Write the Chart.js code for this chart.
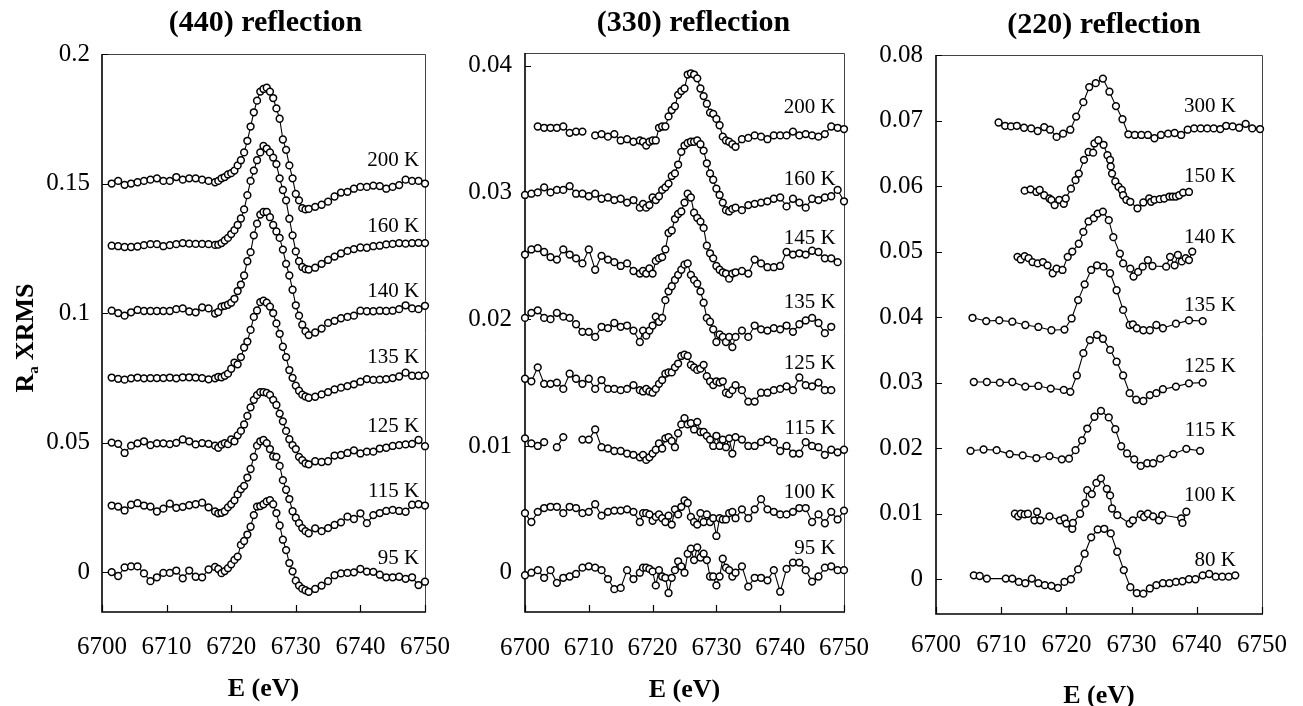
<!DOCTYPE html>
<html><head><meta charset="utf-8">
<script src="https://cdn.jsdelivr.net/npm/chart.js@4.4.1/dist/chart.umd.min.js"></script>
<style>
html,body{margin:0;padding:0;background:#fff;width:1303px;height:706px;overflow:hidden;position:relative}
canvas{position:absolute;top:0}
#ylab{position:absolute;left:-45px;top:323px;width:140px;height:30px;line-height:30px;text-align:center;transform:rotate(-90deg);font-family:"Liberation Serif","Times New Roman",serif;font-weight:bold;font-size:26px;color:#000;white-space:nowrap}
#ylab sub{font-size:15px;vertical-align:-5px;margin-right:6px}
</style></head>
<body>
<canvas id="c1" width="470" height="706" style="left:0px"></canvas>
<canvas id="c2" width="450" height="706" style="left:440px"></canvas>
<canvas id="c3" width="443" height="706" style="left:860px"></canvas>
<div id="ylab">R<sub>a</sub>XRMS</div>
<script>
const FONT = '"Liberation Serif", "Times New Roman", serif';
const xTicks = [6700, 6710, 6720, 6730, 6740, 6750];
const xTickLabels = ['6700', '6710', '6720', '6730', '6740', '6750'];

// ---------- Panel 1: (440) reflection ----------
const p1Title = '(440) reflection';
const p1Energy = [6701.5,6702.5,6703.5,6704.5,6705.5,6706.5,6707.5,6708.5,6709.5,6710.5,6711.5,6712.5,6713.5,6714.5,6715.5,6716.5,6717.5,6718,6718.5,6719,6719.5,6720,6720.5,6721,6721.5,6722,6722.5,6723,6723.5,6724,6724.5,6725,6725.5,6726,6726.5,6727,6727.5,6728,6728.5,6729,6729.5,6730,6730.5,6731,6731.5,6732,6733,6734,6735,6736,6737,6738,6739,6740,6741,6742,6743,6744,6745,6746,6747,6748,6749,6750];
const p1Temps = ['200 K', '160 K', '140 K', '135 K', '125 K', '115 K', '95 K'];
const p1_200K = [.150,.151,.1495,.150,.1505,.151,.1515,.152,.151,.151,.1525,.1515,.152,.152,.1515,.151,.1505,.151,.152,.1525,.1535,.154,.155,.157,.159,.162,.1665,.172,.1775,.182,.1855,.1865,.187,.1855,.183,.179,.175,.167,.163,.157,.152,.146,.1435,.1405,.140,.1402,.141,.1418,.143,.145,.1465,.1468,.148,.1487,.1487,.1492,.149,.148,.1487,.1494,.1515,.151,.151,.150];
const p1_160K = [.126,.1258,.1255,.1255,.1257,.1262,.1266,.1266,.1258,.1262,.1266,.127,.1268,.1267,.1267,.1266,.1263,.1264,.127,.128,.129,.1305,.132,.134,.1365,.140,.1455,.151,.155,.159,.162,.1645,.1635,.162,.160,.1575,.152,.1475,.1435,.1364,.130,.1238,.120,.1178,.117,.1168,.1175,.119,.1205,.1218,.123,.124,.1247,.1253,.1252,.1258,.126,.1265,.1267,.127,.1268,.127,.1271,.127];
const p1_140K = [.1009,.1000,.099,.1003,.1012,.1008,.1008,.1008,.1008,.1008,.1015,.1018,.1006,.1003,.1022,.1018,.0998,.1004,.1025,.1028,.1032,.104,.1055,.1085,.111,.1145,.120,.1235,.130,.1345,.138,.139,.139,.137,.134,.1315,.129,.1245,.119,.1145,.109,.103,.099,.0955,.093,.0915,.0925,.094,.0962,.097,.098,.0985,.099,.1009,.1007,.1007,.1009,.1008,.1009,.1015,.103,.1018,.1015,.1028];
const p1_135K = [.0751,.0746,.0743,.0748,.0751,.0748,.0749,.0749,.0749,.0751,.0748,.0752,.0752,.0751,.0749,.0744,.0748,.0754,.0752,.0758,.0766,.0785,.0809,.0802,.083,.0867,.089,.0935,.0985,.101,.1042,.1048,.104,.1025,.100,.096,.092,.087,.083,.078,.075,.072,.070,.0685,.0678,.0673,.0677,.0686,.0695,.0705,.0712,.0718,.0725,.0735,.0745,.0742,.0743,.0745,.0749,.0755,.077,.0758,.0758,.076];
const p1_125K = [.050,.0495,.046,.0488,.0497,.0505,.049,.0497,.0497,.0494,.0499,.0512,.0505,.0493,.0498,.0495,.0488,.048,.0492,.0498,.0494,.0512,.0505,.0528,.0545,.057,.0603,.0636,.0665,.0683,.0695,.0695,.0692,.0684,.0665,.0645,.0612,.0582,.0545,.0513,.049,.0475,.0445,.0432,.042,.0416,.0428,.0425,.0428,.045,.0452,.046,.047,.0458,.0465,.0465,.0477,.048,.0487,.049,.0493,.0495,.051,.0486];
const p1_115K = [.0257,.0253,.0238,.026,.0266,.0257,.0253,.0234,.0245,.0264,.0248,.0252,.0258,.0262,.0268,.025,.0234,.0227,.0229,.0235,.025,.0262,.0277,.030,.032,.0333,.0365,.0398,.0445,.0488,.0505,.051,.0498,.0475,.0447,.0445,.041,.0355,.0318,.0282,.0235,.021,.0189,.017,.0158,.015,.0169,.0158,.017,.0182,.0192,.0214,.0205,.0227,.0189,.022,.0228,.0236,.024,.0236,.0233,.026,.0262,.0257];
const p1_95K = [0,-.0015,.0018,.0022,.0022,-.0005,-.0035,-.002,-.0003,-.0003,.0006,-.0024,.0006,-.0018,-.002,.001,.002,.0012,-.0004,.0004,.0015,.003,.0047,.006,.0105,.012,.0145,.0175,.022,.0253,.0255,.0262,.0273,.0278,.0262,.0228,.018,.0125,.0085,.0035,.0003,-.0033,-.0052,-.0064,-.007,-.0076,-.0065,-.0052,-.0035,-.0012,-.0005,-.0003,-.0001,.0012,.0002,.0001,-.001,-.002,-.002,-.0018,-.0026,-.002,-.005,-.0037];
const p1YTicks = [0, 0.05, 0.1, 0.15, 0.2];
const p1YTickLabels = ['0', '0.05', '0.1', '0.15', '0.2'];
const p1LabelY = [0.159, 0.1333, 0.1085, 0.0829, 0.0562, 0.031, 0.0054];

// ---------- Panel 2: (330) reflection ----------
const p2Title = '(330) reflection';
const p2Energy = [6700,6701,6702,6703,6704,6705,6706,6707,6708,6709,6710,6711,6712,6713,6714,6715,6716,6717,6718,6718.5,6719,6719.5,6720,6720.5,6721,6721.5,6722,6722.5,6723,6723.5,6724,6724.5,6725,6725.5,6726,6726.5,6727,6727.5,6728,6728.5,6729,6729.5,6730,6730.5,6731,6731.5,6732,6732.5,6733,6734,6735,6736,6737,6738,6739,6740,6741,6742,6743,6744,6745,6746,6747,6748,6749,6750];
const p2Temps = ['200 K', '160 K', '145 K', '135 K', '125 K', '115 K', '100 K', '95 K'];
const p2_200K = [null,null,.0352,.0351,.0351,.0351,.0352,.0347,.0348,.0348,null,.0345,.0346,.0344,.0346,.0341,.0342,.034,.0341,.034,.0337,.034,.0341,.0341,.0351,.0352,.0352,.036,.0365,.0368,.0377,.038,.0382,.0393,.0394,.0393,.039,.0382,.0376,.037,.0363,.0362,.0358,.0353,.0344,.0341,.034,.0338,.0336,.0342,.0343,.0345,.0344,.0342,.0345,.0345,.0345,.0348,.0345,.0346,.0345,.0344,.0346,.0352,.0351,.035];
const p2_160K = [.0298,.0299,.030,.0304,.030,.0302,.0302,.0305,.0299,.0299,.0297,.0299,.0295,.0296,.0294,.0295,.0292,.0294,.0288,.0291,.0288,.029,.0296,.0294,.0297,.0302,.0304,.0307,.0313,.0315,.0322,.0332,.0337,.0339,.034,.034,.0341,.0338,.0333,.0323,.0315,.031,.0303,.0298,.0292,.0286,.0285,.0287,.0288,.0286,.029,.0291,.0292,.0293,.0295,.0296,.0289,.0295,.0292,.0288,.0295,.0294,.0296,.0297,.0302,.0293];
const p2_145K = [.0251,.0255,.0256,.0253,.0249,.0247,.0255,.0251,.0248,.0244,.0255,.0239,.025,.0247,.0245,.0242,.0244,.0238,.0236,.0238,.0236,.024,.0236,.0246,.0248,.0249,.0255,.0268,.027,.0279,.0283,.0285,.0292,.0299,.0296,.0284,.028,.0277,.0272,.0258,.0252,.0248,.0242,.0239,.0237,.0236,.0232,.0236,.0237,.0238,.0236,.0247,.0244,.0241,.0241,.0242,.0253,.0251,.0252,.0251,.0254,.0253,.0248,.0248,.0245,null];
const p2_135K = [.0201,.0205,.0207,.0201,.020,.0205,.0202,.0201,.0196,.019,.019,.0186,.0194,.0193,.0197,.0194,.0195,.0191,.0182,.0191,.0187,.0191,.0195,.0202,.0198,.0201,.0215,.0222,.0226,.0231,.0235,.0239,.0243,.0244,.0235,.0231,.0228,.0222,.0213,.0201,.0198,.0192,.0182,.0188,.0186,.0182,.0186,.0178,.0186,.0191,.0186,.0195,.0192,.0191,.0193,.0192,.0195,.019,.0196,.0199,.0201,.0197,.0189,.0194,null,null];
const p2_125K = [.0153,.0151,.0162,.0149,.0149,.015,.0145,.0157,.0153,.0149,.0153,.0145,.0152,.0145,.0145,.0144,.0145,.0148,.0144,.0143,.0145,.0143,.0142,.0145,.0149,.0152,.0157,.0158,.0158,.0162,.0165,.0171,.0172,.0171,.0164,.0162,.016,.0161,.0164,.0155,.0151,.0148,.0151,.015,.0151,.0142,.0141,.0144,.0148,.0144,.0135,.0135,.0142,.0142,.0144,.0145,.0147,.0144,.0154,.0148,.0147,.015,.0144,.0144,null,null];
const p2_115K = [.0106,.0102,.010,.0103,null,.0099,.0107,null,null,.0105,.0105,.0113,.0099,.0098,.0096,.0096,.0094,.0093,.0091,.0093,.0089,.0091,.0094,.0097,.0102,.0098,.0106,.0107,.0104,.0099,.011,.0117,.0122,.0117,.0118,.0113,.0119,.0111,.0111,.0108,.0105,.010,.0108,.010,.0105,.0099,.0106,.0094,.0107,.0105,.010,.010,.0103,.0105,.0103,.0096,.010,.0094,.0094,.0103,.010,.0099,.0093,.0097,.0095,.0097];
const p2_100K = [.0047,.004,.0048,.0051,.0052,.0052,.0047,.0052,.0051,.0047,.0048,.0054,.0045,.0048,.0049,.0049,.005,.0048,.004,.0047,.0047,.0046,.0041,.0044,.0046,.0043,.004,.0045,.0038,.005,.0046,.0052,.0057,.0055,.0044,.004,.0038,.0047,.004,.0046,.004,.0043,.0029,.0043,.0042,.0042,.0047,.0048,.0043,.005,.0043,.005,.0058,.005,.0048,.0046,.0046,.0048,.0051,.0051,.004,.0046,.0039,.0048,.0042,.0049];
const p2_95K = [-.0002,0,.0002,-.0004,.0002,-.0008,-.0004,-.0003,-.0001,.0004,.0005,.0004,.0002,-.0005,-.0013,-.0012,.0002,-.0005,0,.0004,.0004,.0003,.0001,-.001,.0002,-.0003,-.0004,-.0016,-.0004,.0002,.0009,.0005,0,.0015,.0019,.001,.002,.0012,.0015,.001,-.0003,-.0003,-.001,-.0003,.0011,.0004,.0002,-.0003,0,.0005,-.0011,-.0004,-.0004,-.0006,.0002,-.0015,.0003,.0008,.0008,.0002,-.0007,-.0003,.0004,.0005,.0002,.0002];
const p2YTicks = [0, 0.01, 0.02, 0.03, 0.04];
const p2YTickLabels = ['0', '0.01', '0.02', '0.03', '0.04'];
const p2LabelY = [0.03667, 0.031, 0.0264, 0.0213, 0.01648, 0.01136, 0.0063, 0.0019];

// ---------- Panel 3: (220) reflection ----------
const p3Title = '(220) reflection';
const p3Temps = ['300 K', '150 K', '140 K', '135 K', '125 K', '115 K', '100 K', '80 K'];
const p3_300K_E = [6709.6,6710.6,6711.5,6712.4,6713.5,6714.6,6715.6,6716.6,6717.5,6718.5,6719.5,6720.6,6721.5,6722.6,6723.5,6724.5,6725.6,6726.6,6727.6,6728.6,6729.5,6730.5,6731.5,6732.5,6733.5,6734.5,6735.6,6736.6,6737.6,6738.6,6739.6,6740.6,6741.6,6742.6,6743.6,6744.5,6745.5,6746.5,6747.5,6748.5,6749.7];
const p3_300K = [.0697,.0692,.0691,.0692,.0689,.0688,.0684,.069,.0686,.0675,.068,.0686,.0706,.0728,.0751,.0757,.0764,.0744,.0722,.0702,.0679,.0678,.0678,.0678,.0673,.0678,.068,.0681,.0678,.0686,.0688,.0688,.0688,.0688,.0687,.0692,.0691,.0689,.0695,.0688,.0687];
const p3_150K_E = [6713.6,6714.5,6715.4,6715.9,6716.6,6717.4,6717.7,6718.2,6718.9,6719.6,6719.9,6720.7,6721.4,6721.9,6722.7,6723.4,6724.1,6724.3,6724.9,6725.7,6726.3,6726.7,6726.8,6727,6727.5,6728,6728.5,6728.7,6729.2,6729.8,6730.9,6731.8,6732.7,6733,6733.5,6734.3,6735,6735.8,6736.3,6736.8,6737.3,6737.9,6738.8];
const p3_150K = [.0593,.0595,.0591,.0594,.0586,.0581,.0579,.0571,.0579,.0573,.0581,.0596,.0609,.0619,.064,.0652,.0651,.0665,.067,.0663,.0647,.064,.063,.0619,.0607,.0599,.0594,.0586,.0579,.0576,.0566,.0575,.0581,.0576,.0579,.058,.0581,.0584,.0584,.0584,.0586,.059,.0591];
const p3_140K_E = [6712.5,6713,6713.6,6714.2,6714.8,6715.6,6716.4,6717.1,6717.9,6718.5,6719.4,6720.2,6720.9,6721.9,6722.6,6723.4,6724.2,6724.8,6725.6,6726.5,6727.2,6728.2,6728.7,6729.8,6730.3,6731,6731.7,6732.5,6733.2,6735.3,6735.9,6736.6,6737.1,6737.7,6738.3,6738.8,6739.3];
const p3_140K = [.0492,.0488,.0493,.049,.0484,.0482,.0484,.0479,.0467,.0474,.0472,.0492,.05,.0512,.053,.0546,.0551,.0558,.0561,.0548,.0522,.0497,.0482,.0474,.0462,.0469,.0477,.0487,.0478,.0477,.0492,.0479,.0495,.0485,.049,.0487,.05];
const p3_135K_E = [6705.6,6707.7,6709.7,6711.7,6713.7,6715.7,6717.7,6719.7,6720.8,6721.8,6722.8,6723.8,6724.7,6725.7,6726.7,6727.7,6728.7,6729.7,6730.2,6730.8,6731.8,6732.8,6733.8,6734.8,6736.8,6738.8,6740.9];
const p3_135K = [.0399,.0394,.0395,.0393,.0388,.0385,.038,.0381,.0398,.0426,.045,.0472,.0479,.0477,.0467,.0441,.0411,.0388,.0389,.0383,.038,.038,.0388,.0383,.039,.0395,.0394];
const p3_125K_E = [6705.8,6707.8,6709.8,6711.7,6713.7,6715.7,6717.6,6719.6,6720.6,6721.6,6722.6,6723.6,6724.7,6725.6,6726.7,6727.7,6728.7,6729.7,6730.7,6731.8,6732.8,6733.8,6734.8,6736.8,6738.8,6740.9];
const p3_125K = [.0301,.0301,.030,.0301,.0294,.0295,.0291,.0289,.0286,.0311,.0345,.0365,.0373,.0367,.035,.0332,.0311,.0284,.0274,.0272,.0281,.0284,.029,.0294,.0299,.030];
const p3_115K_E = [6705.3,6707.3,6709.3,6711.3,6713.3,6715.4,6717.4,6719.3,6720.4,6721.4,6722.4,6723.2,6724.3,6725.3,6726.5,6727.5,6728.4,6729.3,6730.4,6731.4,6732.4,6733.3,6734.4,6736.4,6738.4,6740.5];
const p3_115K = [.0196,.0198,.0197,.0191,.0189,.0185,.0188,.0183,.0184,.0197,.0212,.023,.0248,.0257,.0247,.0229,.0203,.0192,.0183,.0173,.0177,.0177,.0184,.0191,.0199,.0196];
const p3_100K_E = [6712.1,6712.6,6713,6713.6,6714.1,6715.1,6715.5,6716,6717.4,6719,6719.7,6720,6720.9,6721,6722.1,6722.9,6723.2,6723.9,6724.6,6725.3,6726.2,6726.7,6727,6727.8,6729.7,6730.2,6731.4,6731.9,6732.5,6733.3,6734.2,6734.7,6737.6,6737.8,6738.4];
const p3_100K = [.010,.0096,.010,.0099,.010,.009,.0103,.009,.0096,.009,.0093,.0085,.0077,.0086,.010,.0116,.0136,.013,.0147,.0154,.0138,.0128,.0108,.0098,.0085,.009,.0099,.0095,.010,.0096,.009,.0098,.0093,.0086,.0103];
const p3_80K_E = [6705.8,6706.7,6707.8,6710.7,6711.7,6712.7,6713.7,6714.7,6715.7,6716.7,6717.7,6718.7,6719.7,6720.7,6721.8,6722.8,6723.8,6724.8,6725.8,6726.8,6727.8,6728.8,6729.8,6730.8,6731.8,6732.8,6733.8,6734.8,6735.8,6736.8,6737.8,6738.8,6739.8,6740.9,6741.9,6742.9,6743.9,6744.9,6745.9];
const p3_80K = [.0006,.0005,.0001,.0001,.0001,-.0004,-.0006,.0001,-.0006,-.0009,-.001,-.0013,-.0004,0,.0015,.0039,.0064,.0076,.0077,.007,.0042,.0014,-.0012,-.0021,-.0022,-.0014,-.0009,-.0006,-.0006,-.0004,-.0003,0,0,.0006,.0008,.0004,.0004,.0004,.0006];
const p3YTicks = [0, 0.01, 0.02, 0.03, 0.04, 0.05, 0.06, 0.07, 0.08];
const p3YTickLabels = ['0', '0.01', '0.02', '0.03', '0.04', '0.05', '0.06', '0.07', '0.08'];
const p3LabelY = [0.0721, 0.0615, 0.0522, 0.0418, 0.0324, 0.0227, 0.0128, 0.0029];

function makePanel(o) {
  const datasets = o.series.map(s => ({
    data: s.x.map((x, i) => ({ x: x, y: s.y[i] })),
    borderColor: '#000', backgroundColor: '#fff',
    pointBorderColor: '#000', pointBackgroundColor: '#fff',
    borderWidth: 1.1, pointRadius: 3.4, pointBorderWidth: 1.5, pointHoverRadius: 3.4,
    tension: 0, spanGaps: false, fill: false, clip: false
  }));
  const framePlugin = {
    id: 'frameTicks',
    beforeDatasetsDraw(chart) {
      const { ctx, chartArea: a, scales: { x, y } } = chart;
      ctx.save();
      ctx.strokeStyle = '#444'; ctx.lineWidth = 1;
      ctx.beginPath();
      ctx.moveTo(a.left, a.top + 0.5); ctx.lineTo(a.right + 0.5, a.top + 0.5); ctx.lineTo(a.right + 0.5, a.bottom);
      ctx.stroke();
      ctx.strokeStyle = '#000'; ctx.lineWidth = 1.6;
      ctx.beginPath();
      ctx.moveTo(a.left, a.top); ctx.lineTo(a.left, a.bottom); ctx.lineTo(a.right + 1, a.bottom);
      ctx.stroke();
      ctx.lineWidth = 1.2;
      ctx.beginPath();
      x.ticks.forEach(t => { const px = Math.round(x.getPixelForValue(t.value)) + 0.5; ctx.moveTo(px, a.bottom); ctx.lineTo(px, a.bottom - 7); });
      y.ticks.forEach(t => { const py = Math.round(y.getPixelForValue(t.value)) + 0.5; ctx.moveTo(a.left, py); ctx.lineTo(a.left + 6, py); });
      ctx.stroke();
      ctx.restore();
    },
    afterDatasetsDraw(chart) {
      const { ctx, chartArea: a, scales: { x, y } } = chart;
      ctx.save();
      ctx.fillStyle = '#000';
      ctx.textAlign = 'center'; ctx.textBaseline = 'middle';
      ctx.font = 'bold 30px ' + FONT;
      ctx.fillText(o.title, (a.left + a.right) / 2 + o.titleShift, o.titleY);
      ctx.font = '21px ' + FONT;
      ctx.textAlign = 'right';
      o.temps.forEach((t, i) => ctx.fillText(t, x.getPixelForValue(o.labelX), y.getPixelForValue(o.labelY[i])));
      ctx.restore();
    }
  };
  return new Chart(document.getElementById(o.id), {
    type: 'line',
    data: { datasets },
    options: {
      responsive: false, animation: false, devicePixelRatio: 1,
      layout: { padding: { left: 0, right: o.rpad, top: o.top, bottom: 0 } },
      plugins: { legend: { display: false }, tooltip: { enabled: false }, title: { display: false } },
      scales: {
        x: {
          type: 'linear', min: 6700, max: 6750, position: 'bottom',
          grid: { display: false, drawTicks: false }, border: { display: false },
          afterBuildTicks: sc => { sc.ticks = xTicks.map(v => ({ value: v })); },
          ticks: { color: '#000', font: { family: FONT, size: 25 }, padding: o.xpad, maxRotation: 0, autoSkip: false,
            callback: (v, i) => xTickLabels[i] },
          title: { display: true, text: 'E (eV)', color: '#000', font: { family: FONT, size: 26, weight: 'bold' },
            padding: { top: 0, bottom: o.xtb } },
          afterFit: sc => { sc.height = o.xh; }
        },
        y: {
          type: 'linear', min: o.ymin, max: o.ymax,
          grid: { display: false, drawTicks: false }, border: { display: false },
          afterBuildTicks: sc => { sc.ticks = o.yTicks.map(v => ({ value: v })); },
          ticks: { color: '#000', font: { family: FONT, size: 25 }, padding: o.ypad, autoSkip: false,
            callback: (v, i) => o.yTickLabels[i] },
          afterFit: sc => { sc.width = o.yw; }
        }
      }
    },
    plugins: [framePlugin]
  });
}

makePanel({
  id: 'c1', title: p1Title, titleShift: 2, titleY: 23, temps: p1Temps, labelX: 6749.1, labelY: p1LabelY,
  series: [p1_200K, p1_160K, p1_140K, p1_135K, p1_125K, p1_115K, p1_95K].map(y => ({ x: p1Energy, y })),
  yTicks: p1YTicks, yTickLabels: p1YTickLabels, ymin: -0.0154, ymax: 0.2,
  yw: 102, ypad: 12, rpad: 36, top: 54, xh: 94, xpad: 20, xtb: 1.4
});
makePanel({
  id: 'c2', title: p2Title, titleShift: 9, titleY: 23, temps: p2Temps, labelX: 6748.7, labelY: p2LabelY,
  series: [p2_200K, p2_160K, p2_145K, p2_135K, p2_125K, p2_115K, p2_100K, p2_95K].map(y => ({ x: p2Energy, y })),
  yTicks: p2YTicks, yTickLabels: p2YTickLabels, ymin: -0.0031, ymax: 0.041,
  yw: 85, ypad: 13, rpad: 35, top: 53, xh: 94, xpad: 21, xtb: 0.5
});
makePanel({
  id: 'c3', title: p3Title, titleShift: 5, titleY: 25, temps: p3Temps, labelX: 6746, labelY: p3LabelY,
  series: [
    { x: p3_300K_E, y: p3_300K }, { x: p3_150K_E, y: p3_150K }, { x: p3_140K_E, y: p3_140K },
    { x: p3_135K_E, y: p3_135K }, { x: p3_125K_E, y: p3_125K }, { x: p3_115K_E, y: p3_115K },
    { x: p3_100K_E, y: p3_100K }, { x: p3_80K_E, y: p3_80K }
  ],
  yTicks: p3YTicks, yTickLabels: p3YTickLabels, ymin: -0.0053, ymax: 0.08,
  yw: 76, ypad: 13, rpad: 36, top: 55, xh: 92, xpad: 16, xtb: -5.6
});
</script>
</body></html>
